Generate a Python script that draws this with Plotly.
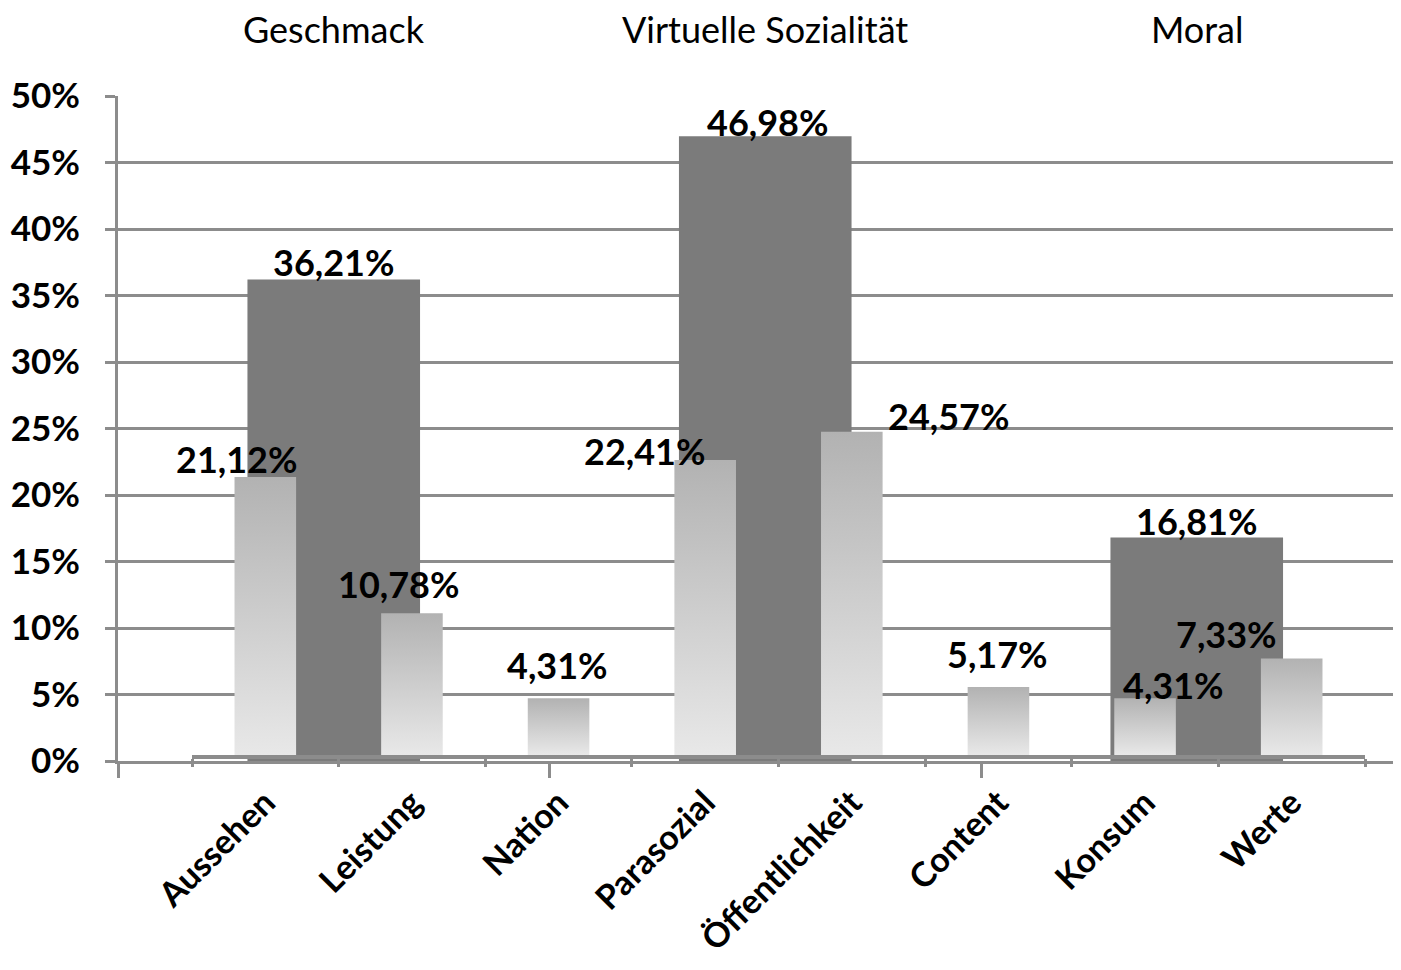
import plotly.graph_objects as go

# ---------------- data ----------------
GROUPS = ["Geschmack", "Virtuelle Sozialität", "Moral"]
GROUP_VALUES = [36.21, 46.98, 16.81]

SUBCATS = ["Aussehen", "Leistung", "Nation", "Parasozial",
           "Öffentlichkeit", "Content", "Konsum", "Werte"]
SUB_VALUES = [21.12, 10.78, 4.31, 22.41, 24.57, 5.17, 4.31, 7.33]

Y_TICKS = [0, 5, 10, 15, 20, 25, 30, 35, 40, 45, 50]
Y_TICK_LABELS = [f"{t}%" for t in Y_TICKS]

# label placement (pixels): horizontal shift, baseline height above bar top
GROUP_LABEL_SHIFT = [(0, 3), (2, 0), (0, 2)]
SUB_LABEL_SHIFT = [(-29, 4), (-13, 15), (-1, 19), (-61, -5),
                   (97, 2), (-1, 19), (28, -1), (-65, 11)]

# ---------------- style ----------------
OFF = 8                      # default page body margin
W, H = 1401 - OFF, 970 - OFF
ML, MR, MT = 118 - OFF, 0, 96 - OFF
MB = H - (761 - OFF)
FONT = "Lato"
GRID = "#8c8c8c"
DARK = "#7b7b7b"
FS = 36
DESC = 10
PRIMARY_CAT_PX = 431.5
plot_w = W - ML - MR
plot_h = H - MT - MB


def fmt(v):
    return f"{v:.2f}".replace(".", ",") + "%"


fig = go.Figure()

# dark group bars (primary axes)
fig.add_trace(go.Bar(
    x=list(range(len(GROUPS))), y=GROUP_VALUES, width=0.4,
    marker=dict(color=DARK, line=dict(width=0)),
    xaxis="x", yaxis="y", hoverinfo="skip", showlegend=False,
))

# light gradient bars (secondary axes)
BW = 0.42
for i, v in enumerate(SUB_VALUES):
    fig.add_trace(go.Scatter(
        x=[i - BW / 2, i - BW / 2, i + BW / 2, i + BW / 2, i - BW / 2],
        y=[0, v, v, 0, 0],
        mode="lines", line=dict(width=0, color="rgba(0,0,0,0)"),
        fill="toself",
        fillgradient=dict(type="vertical",
                          colorscale=[[0, "#e8e8e8"], [1, "#b2b2b2"]],
                          start=0, stop=v),
        xaxis="x2", yaxis="y2", hoverinfo="skip", showlegend=False,
    ))

annotations = []
# group names above the plot (top category labels)
for i, g in enumerate(GROUPS):
    annotations.append(dict(
        x=i, y=1, xref="x", yref="paper", text=g, showarrow=False,
        xanchor="center", yanchor="bottom", yshift=53 - DESC,
        font=dict(family=FONT, size=36, color="#000000"),
    ))
for i, v in enumerate(GROUP_VALUES):
    dx, dy = GROUP_LABEL_SHIFT[i]
    annotations.append(dict(
        x=i, y=v, xref="x", yref="y", text=fmt(v), showarrow=False,
        xanchor="center", yanchor="bottom", xshift=dx, yshift=dy - DESC,
        font=dict(family=FONT, size=FS, color="#000000", weight=700),
    ))
for i, v in enumerate(SUB_VALUES):
    dx, dy = SUB_LABEL_SHIFT[i]
    annotations.append(dict(
        x=i, y=v, xref="x2", yref="y2", text=fmt(v), showarrow=False,
        xanchor="center", yanchor="bottom", xshift=dx, yshift=dy - DESC,
        font=dict(family=FONT, size=FS, color="#000000", weight=700),
    ))

x_end = -0.5 + plot_w / PRIMARY_CAT_PX
x2_dom = [(192 - 118) / plot_w, (1365 - 118) / plot_w]
y2_dom = [(761 - 755) / plot_h, (761 - 97) / plot_h]

fig.update_layout(
    width=W, height=H,
    margin=dict(l=ML, r=MR, t=MT, b=MB, autoexpand=False),
    paper_bgcolor="white", plot_bgcolor="rgba(0,0,0,0)",
    showlegend=False,
    annotations=annotations,
    xaxis=dict(
        domain=[0, 1], range=[-0.5, x_end],
        tickmode="array", tickvals=[-0.5, 0.5, 1.5, 2.5],
        showticklabels=False, ticks="outside", ticklen=14, tickwidth=3,
        tickcolor=GRID, showline=True, linecolor=GRID, linewidth=3,
        showgrid=False, zeroline=False, fixedrange=True,
    ),
    yaxis=dict(
        domain=[0, 1], range=[0, 50],
        tickmode="array", tickvals=Y_TICKS, ticktext=Y_TICK_LABELS,
        ticks="outside", ticklen=10, tickwidth=3, tickcolor=GRID,
        showline=True, linecolor=GRID, linewidth=3,
        showgrid=True, gridcolor=GRID, gridwidth=3, zeroline=False,
        ticklabelstandoff=18,
        tickfont=dict(family=FONT, size=35, color="#000000", weight=700),
    ),
    xaxis2=dict(
        domain=x2_dom, anchor="y2", range=[-0.5, len(SUBCATS) - 0.5],
        tickmode="array", tickvals=list(range(len(SUBCATS))),
        ticktext=SUBCATS, tickangle=-45, ticks="",
        minor=dict(tickmode="array",
                   tickvals=[i - 0.5 for i in range(len(SUBCATS) + 1)],
                   ticks="outside", ticklen=8, tickwidth=3, tickcolor=GRID,
                   showgrid=False),
        showline=True, linecolor=GRID, linewidth=4,
        showgrid=False, zeroline=False, ticklabelstandoff=10,
        tickfont=dict(family=FONT, size=34, color="#000000", weight=700),
    ),
    yaxis2=dict(
        domain=y2_dom, anchor="x2", range=[0, 50],
        showticklabels=False, ticks="", showline=False,
        showgrid=False, zeroline=False,
    ),
)

fig.write_html("out.html")
